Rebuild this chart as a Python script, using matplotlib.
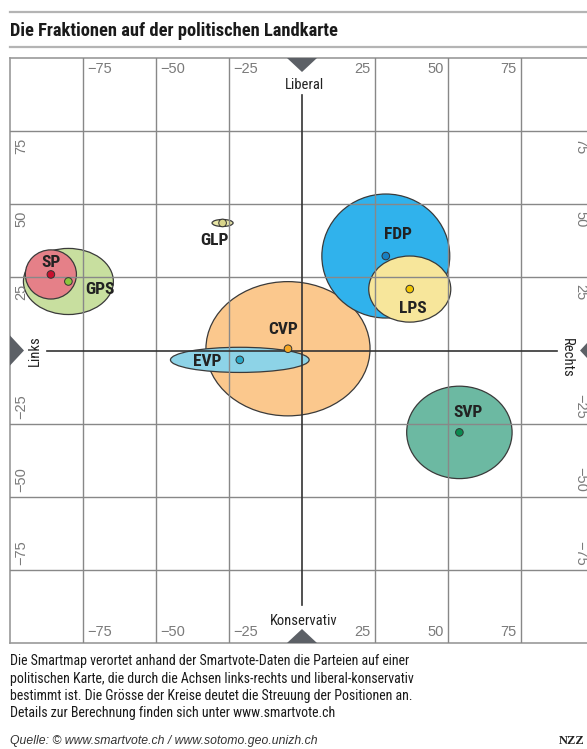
import matplotlib
matplotlib.use("Agg")
import matplotlib.pyplot as plt
from matplotlib.patches import Ellipse, Polygon
from matplotlib import font_manager as fm

# ---------------- data ----------------
parties = ["GPS", "SP", "GLP", "CVP", "EVP", "FDP", "LPS", "SVP"]
center_x = [-80.0, -86.0, -27.2, -4.8, -21.3, 28.7, 36.9, 53.9]
center_y = [23.6, 26.0, 43.6, 0.6, -3.2, 32.3, 21.0, -28.0]
spread_w = [30.8, 17.5, 7.2, 56.2, 47.5, 43.8, 28.1, 36.1]
spread_h = [22.6, 16.8, 2.4, 45.9, 8.6, 42.4, 22.6, 31.6]
label_x = [-69.1, -86.0, -30.1, -6.5, -32.3, 32.7, 38.1, 56.8]
label_y = [20.9, 30.1, 37.6, 7.2, -3.9, 39.7, 14.5, -21.2]
fill_colors = ["#c8df9f", "#e58088", "#e8e6a6", "#fbc88d", "#8dd3e7",
               "#30b2ec", "#f7e69b", "#6cb9a2"]
dot_colors = ["#8cc63e", "#c8102e", "#d8d48a", "#f5a623", "#2aa8c8",
              "#1780c2", "#f2c500", "#0b8a50"]

tick_values = [-75, -50, -25, 25, 50, 75]
tick_labels = ["\u221275", "\u221250", "\u221225", "25", "50", "75"]

title = "Die Fraktionen auf der politischen Landkarte"
body_lines = [
    "Die Smartmap verortet anhand der Smartvote-Daten die Parteien auf einer",
    "politischen Karte, die durch die Achsen links-rechts und liberal-konservativ",
    "bestimmt ist. Die Grösse der Kreise deutet die Streuung der Positionen an.",
    "Details zur Berechnung finden sich unter www.smartvote.ch",
]
source = "Quelle: \u00a9 www.smartvote.ch / www.sotomo.geo.unizh.ch"

# ---------------- fonts ----------------
names = {f.name for f in fm.fontManager.ttflist}
narrow = next((n for n in ["Liberation Sans Narrow", "DejaVu Sans Condensed",
                           "Roboto Condensed", "Open Sans Condensed"] if n in names),
              "Liberation Sans")
plain = "Liberation Sans" if "Liberation Sans" in names else "DejaVu Sans"

W, H = 587, 749
fig = plt.figure(figsize=(W / 100, H / 100), dpi=100)
fig.patch.set_facecolor("white")


def fx(x):
    return x / W


def fy(y):
    return 1 - y / H


ax = fig.add_axes([fx(10), fy(643), 584 / W, 585 / H])
ax.set_xlim(-100, 100)
ax.set_ylim(-100, 100)
ax.set_xticks([])
ax.set_yticks([])
for s in ax.spines.values():
    s.set_color("#9a9a9a")
    s.set_linewidth(1.2)

# grid
for v in tick_values:
    ax.axvline(v, color="#888888", lw=1.0, zorder=3)
    ax.axhline(v, color="#888888", lw=1.0, zorder=3)

# ellipses
for i, p in enumerate(parties):
    e = Ellipse((center_x[i], center_y[i]), spread_w[i], spread_h[i],
                facecolor=fill_colors[i], edgecolor="#3a3a3a", lw=0.9, zorder=2)
    ax.add_patch(e)
ax.scatter(center_x, center_y, s=30, c=dot_colors, edgecolors="#333333",
           linewidths=0.7, zorder=6)
for i, p in enumerate(parties):
    ax.text(label_x[i], label_y[i], p, ha="center", va="center",
            fontsize=12.5, fontweight="bold", family=narrow, color="#222222", zorder=7)

# central axes
ax.plot([-87.5, 87.5], [0, 0], color="#333333", lw=1.2, zorder=4)
ax.plot([0, 0], [-87, 87.5], color="#333333", lw=1.2, zorder=4)

# triangles
tw, td = 30 / 584 / 2, 14 / 585
tri_kw = dict(closed=True, transform=ax.transAxes, facecolor="#5c6066",
              edgecolor="none", clip_on=False, zorder=8)
ax.add_patch(Polygon([(0.5 - tw, 1), (0.5 + tw, 1), (0.5, 1 - td)], **tri_kw))
ax.add_patch(Polygon([(0.5 - tw, 0), (0.5 + tw, 0), (0.5, td)], **tri_kw))
ax.add_patch(Polygon([(0, 0.5 - tw), (0, 0.5 + tw), (td, 0.5)], **tri_kw))
ax.add_patch(Polygon([(1, 0.5 - tw), (1, 0.5 + tw), (1 - td, 0.5)], **tri_kw))

ax.text(0.8, 90.6, "Liberal", ha="center", va="center", fontsize=10.5,
        family=narrow, color="#222222", zorder=8)
ax.text(0.5, -92.5, "Konservativ", ha="center", va="center", fontsize=10.5,
        family=narrow, color="#222222", zorder=8)
ax.text(-91.5, 0, "Links", ha="center", va="center", rotation=90, fontsize=10.5,
        family=narrow, color="#222222", zorder=8)
ax.text(90.7, -2.5, "Rechts", ha="center", va="center", rotation=270, fontsize=10.5,
        family=narrow, color="#222222", zorder=8)

# tick labels
tk = dict(fontsize=10.5, family=plain, color="#7a7a7a", zorder=8)
for v, lab in zip(tick_values, tick_labels):
    if v < 0:
        ax.text(v + 1.5, 96.1, lab, ha="left", va="center", **tk)
        ax.text(v + 1.5, -96.4, lab, ha="left", va="center", **tk)
        ax.text(-96.2, v + 1.5, lab, ha="left", va="center", rotation=90,
                rotation_mode="anchor", **tk)
        ax.text(95.3, v + 1.5, lab, ha="right", va="center", rotation=270,
                rotation_mode="anchor", **tk)
    else:
        ax.text(v - 1.4, 96.1, lab, ha="right", va="center", **tk)
        ax.text(v - 1.4, -96.4, lab, ha="right", va="center", **tk)
        ax.text(-96.2, v - 2.2, lab, ha="right", va="center", rotation=90,
                rotation_mode="anchor", **tk)
        ax.text(95.3, v - 2.2, lab, ha="left", va="center", rotation=270,
                rotation_mode="anchor", **tk)

# header
for yy in (12, 47):
    fig.add_artist(plt.Line2D([fx(10), 1], [fy(yy), fy(yy)], color="#b4b4b4", lw=1.6))
fig.text(fx(10), fy(35.5), title, ha="left", va="baseline", fontsize=13.3,
         fontweight="bold", family=narrow, color="#1a1a1a")

# footer
for yy, line in zip([661, 678.5, 696, 713.5], body_lines):
    fig.text(fx(10), fy(yy), line, ha="left", va="center", fontsize=10,
             family=narrow, color="#1a1a1a")
fig.text(fx(10), fy(741), source, ha="left", va="center", fontsize=8.8,
         style="italic", family=plain, color="#333333")
fig.text(fx(585), fy(741), "NZZ", ha="right", va="center", fontsize=9,
         fontweight="bold", family="Liberation Serif", color="#222222")

fig.savefig("out.png", dpi=100)
